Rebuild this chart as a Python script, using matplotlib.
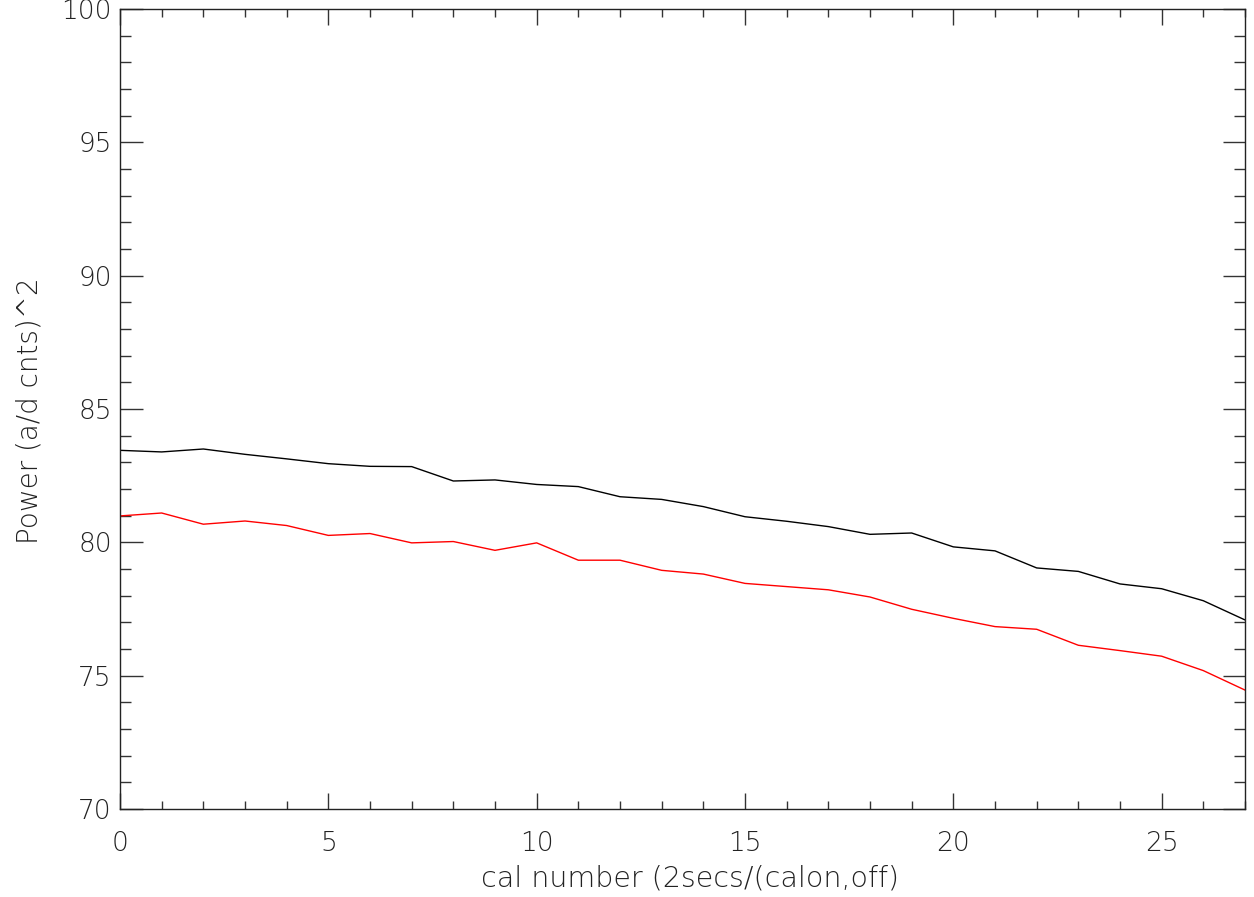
import numpy as np
import matplotlib
matplotlib.use("Agg")
import matplotlib.pyplot as plt
from matplotlib.ticker import MultipleLocator

# cal number index and the two power curves
cal_number = list(range(28))
power_black = [83.45, 83.39, 83.50, 83.30, 83.13, 82.95, 82.85, 82.84,
               82.30, 82.34, 82.17, 82.09, 81.71, 81.61, 81.34, 80.96,
               80.79, 80.59, 80.30, 80.35, 79.83, 79.68, 79.04, 78.91,
               78.44, 78.26, 77.81, 77.09]
power_red = [80.99, 81.10, 80.68, 80.80, 80.63, 80.26, 80.33, 79.98,
             80.03, 79.70, 79.98, 79.33, 79.33, 78.95, 78.81, 78.46,
             78.34, 78.22, 77.95, 77.49, 77.15, 76.84, 76.74, 76.14,
             75.94, 75.73, 75.19, 74.46]

plt.rcParams['font.family'] = ['DejaVu Sans']

W, H = 1254, 897
fig = plt.figure(figsize=(W / 100, H / 100), dpi=100)
ax = fig.add_axes([120 / W, 1 - 809 / H, 1125 / W, 800 / H])

ax.plot(cal_number, power_black, color='black', linewidth=1.0)
ax.plot(cal_number, power_red, color='red', linewidth=1.0)

ax.set_xlim(0, 27)
ax.set_ylim(70, 100)

ax.xaxis.set_major_locator(MultipleLocator(5))
ax.xaxis.set_minor_locator(MultipleLocator(1))
ax.yaxis.set_major_locator(MultipleLocator(5))
ax.yaxis.set_minor_locator(MultipleLocator(1))

# IDL style: ticks inside on all four sides, length ~2% of the plot size
ax.tick_params(which='both', direction='in', top=True, right=True,
               color='#333333', width=1.0, labelcolor='#222222', labelsize=19)
ax.tick_params(axis='x', which='major', length=11.5, pad=16)
ax.tick_params(axis='x', which='minor', length=5.8)
ax.tick_params(axis='y', which='major', length=16.2, pad=6)
ax.tick_params(axis='y', which='minor', length=8.1)

for lbl in ax.get_xticklabels() + ax.get_yticklabels():
    lbl.set_fontweight('light')

for spine in ax.spines.values():
    spine.set_linewidth(1.0)
    spine.set_color('#222222')

ax.set_xlabel('cal number (2secs/(calon,off)', fontsize=20.5, color='#222222',
              fontweight='light')
ax.set_ylabel('Power (a/d cnts)^2', fontsize=20, color='#222222',
              fontweight='light')
ax.xaxis.set_label_coords(0.507, -0.069)
ax.yaxis.set_label_coords(-0.068, 0.4975)

fig.savefig('out.png', dpi=100)
